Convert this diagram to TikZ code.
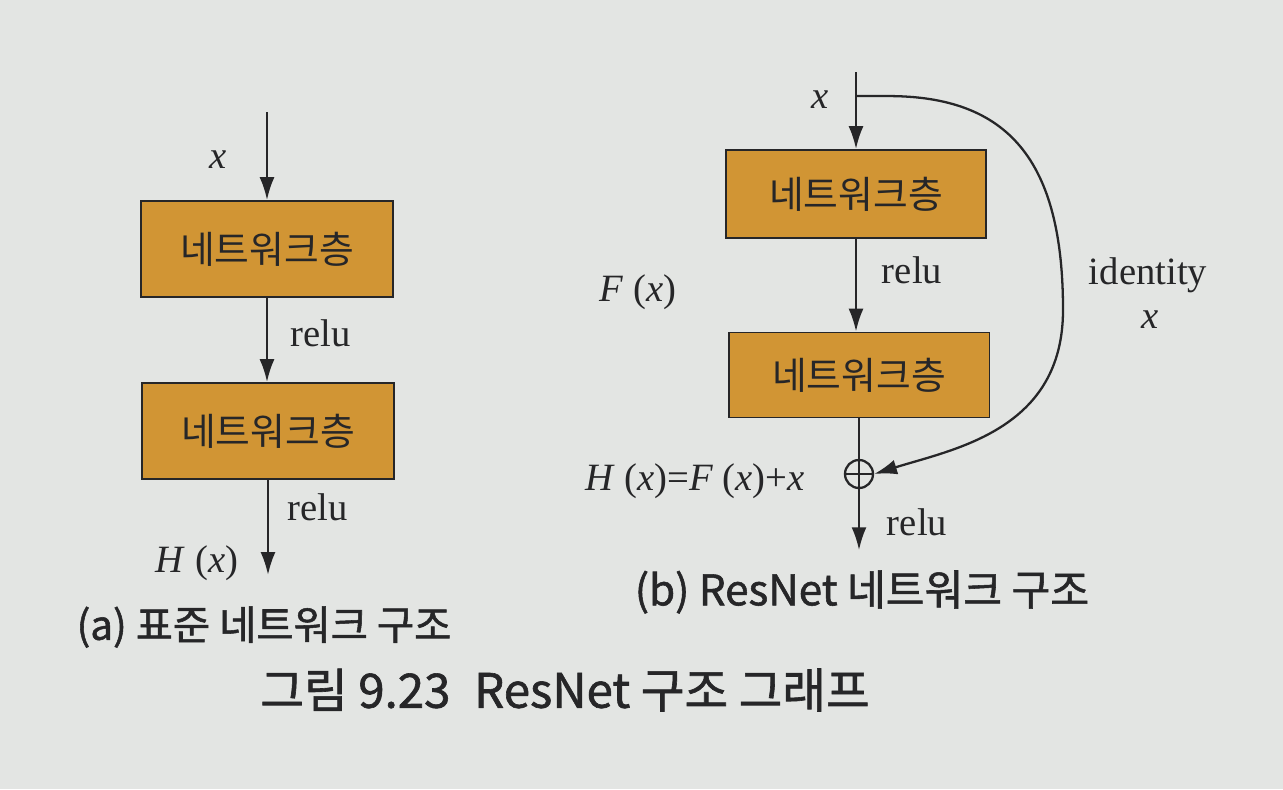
\documentclass[tikz,border=0pt]{standalone}
\usepackage{fontspec}
\setmainfont{Liberation Serif}
\newfontfamily\krfont{Noto Sans CJK KR}
\newfontfamily\krcap[FakeBold=1.3]{Noto Sans CJK KR}
\usetikzlibrary{arrows.meta}

\definecolor{pagebg}{RGB}{227,229,227}
\definecolor{layerfill}{RGB}{209,149,52}
\definecolor{ink}{RGB}{38,38,40}

\tikzset{
	layer/.style = {draw = ink, line width = 1.1pt, fill = layerfill, minimum width = 5.04cm, minimum height = 1.92cm, font = \krfont\fontsize{21.5}{25}\selectfont},
	lbl/.style = {font = \fontsize{22}{26}\selectfont, inner sep = 0pt},
	caption/.style = {font = \krcap\fontsize{23}{27}\selectfont, inner sep = 0pt},
}

\begin{document}
\begin{tikzpicture}[x = 0.02cm, y = -0.02cm, line width = 1.3pt, draw = ink, text = ink, >={Latex[length=13pt, width=8.5pt]}]
			\fill [pagebg] (0,0) rectangle (1283,789);
			\useasboundingbox (0,0) rectangle (1283,789);

			% (a) plain network
			\begin{scope}
				\node [layer] (a1) at (267,249) {네트워크층};
				\node [layer] (a2) at (268,431) {네트워크층};

				\coordinate (aIn) at ([yshift=1.76cm]a1.north);
				\coordinate (aOut) at ([yshift=-1.9cm]a2.south);

				\draw [->] (aIn) -- (a1);
				\draw [->] (a1.south) -- (a1.south |- a2.north);
				\draw [->] (a2.south) -- (aOut);

				\node [lbl] (aX) at (218,160) {\textit{x}};
				\node [lbl] (aRelu1) at (321,333) {relu};
				\node [lbl] (aRelu2) at (318,507) {relu};
				\node [lbl] (aH) at (197,563) {\textit{H} (\textit{x})};
			\end{scope}

			% (b) residual block
			\begin{scope}
				\node [layer, minimum width = 5.2cm, minimum height = 1.76cm] (b1) at (856,194) {네트워크층};
				\node [layer, minimum width = 5.22cm, minimum height = 1.7cm] (b2) at (859,375) {네트워크층};
				\node [circle, draw, inner sep = 0pt, minimum size = 0.56cm] (plus) at (859,474) {};
				\draw (plus.north) -- (plus.south) (plus.west) -- (plus.east);

				\coordinate (bIn) at ([yshift=1.54cm]b1.north);
				\coordinate (bSplit) at ([yshift=1.06cm]b1.north);
				\coordinate (bBend) at (1063,310);
				\coordinate (bOut) at ([yshift=-1.22cm]plus.south);

				\draw [->] (bIn) -- (b1);
				\draw [->] (b1.south) -- (b1.south |- b2.north);
				\draw (b2.south) -- (plus);
				\draw [->] (plus) -- (bOut);
				\draw [->] (bSplit) -- ++(32,0) .. controls +(120,0) and +(0,-150) .. (bBend) .. controls +(0,120) and +(80,-25) .. (plus.east);

				\node [lbl] (bX) at (820,100) {\textit{x}};
				\node [lbl] (bF) at (638,292) {\textit{F} (\textit{x})};
				\node [lbl] (bRelu1) at (912,270) {relu};
				\node [lbl] (bId) at (1148,275) {identity};
				\node [lbl] (bIdX) at (1150,320) {\textit{x}};
				\node [lbl] (bH) at (695,481) {\textit{H} (\textit{x})=\textit{F} (\textit{x})+\textit{x}};
				\node [lbl] (bRelu2) at (917,522) {relu};
			\end{scope}

			% captions
			\node [caption] (capA) at (264,627) {(a) 표준 네트워크 구조};
			\node [caption, font = \krcap\fontsize{24}{28}\selectfont] (capB) at (862,592) {(b) ResNet 네트워크 구조};
			\node [caption, font = \krcap\fontsize{27}{31}\selectfont] (title) at (565,690) {그림 9.23\enspace ResNet 구조 그래프};
		\end{tikzpicture}
\end{document}
